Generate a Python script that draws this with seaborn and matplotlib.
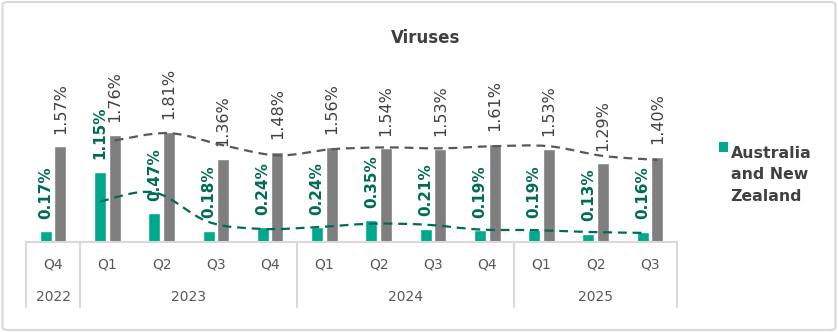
import numpy as np
import pandas as pd
import seaborn as sns
import matplotlib
matplotlib.use("Agg")
import matplotlib.pyplot as plt
from matplotlib.path import Path
from matplotlib.patches import PathPatch, FancyBboxPatch, Patch, Rectangle
from matplotlib.lines import Line2D
from matplotlib.legend_handler import HandlerBase
from matplotlib.transforms import blended_transform_factory

# Quarterly share of virus detections
quarters = ["Q4", "Q1", "Q2", "Q3", "Q4", "Q1", "Q2", "Q3", "Q4", "Q1", "Q2", "Q3"]
years = ["2022", "2023", "2023", "2023", "2023", "2024", "2024", "2024", "2024",
         "2025", "2025", "2025"]
anz_share = [0.17, 1.15, 0.47, 0.18, 0.24, 0.24, 0.35, 0.21, 0.19, 0.19, 0.13, 0.16]
global_share = [1.57, 1.76, 1.81, 1.36, 1.48, 1.56, 1.54, 1.53, 1.61, 1.53, 1.29, 1.40]
series_names = ["Australia and New Zealand", "Global"]

TEAL = "#00A88E"
TEAL_DARK = "#006B55"
GREY = "#7F7F7F"
GREY_DARK = "#595959"
TEXT = "#404040"
RULE = "#D9D9D9"

sns.set_theme(style="white")
plt.rcParams["font.family"] = ["DejaVu Sans"]

periods = [f"{y} {q}" for y, q in zip(years, quarters)]
df = pd.DataFrame({
    "period": periods * 2,
    "series": [series_names[0]] * len(periods) + [series_names[1]] * len(periods),
    "share": anz_share + global_share,
})

fig = plt.figure(figsize=(8.38, 3.32), dpi=100)
ax = fig.add_axes([0.031, 0.272, 0.777, 0.513])

sns.barplot(data=df, x="period", y="share", hue="series", order=periods,
            hue_order=series_names, palette=[TEAL, GREY], width=0.54, gap=0.18,
            saturation=1, ax=ax, legend=False)
ax.set_ylim(0, 2.8)
ax.set_xlim(-0.5, len(periods) - 0.5)


def smooth_path(xs, ys):
    """Bezier path through the points (Catmull-Rom style smoothing)."""
    pts = np.column_stack([xs, ys])
    verts = [pts[0]]
    codes = [Path.MOVETO]
    for i in range(len(pts) - 1):
        p0 = pts[i - 1] if i > 0 else pts[i]
        p1, p2 = pts[i], pts[i + 1]
        p3 = pts[i + 2] if i + 2 < len(pts) else pts[i + 1]
        c1 = p1 + (p2 - p0) / 6.0
        c2 = p2 - (p3 - p1) / 6.0
        verts += [c1, c2, p2]
        codes += [Path.CURVE4] * 3
    return Path(verts, codes)


# Bars, value labels and 2-period moving-average trend lines
label_styles = [dict(color=TEAL_DARK, fontweight="bold", fontsize=11),
                dict(color=TEXT, fontweight="normal", fontsize=11.5)]
trend_colors = [TEAL_DARK, GREY_DARK]
for container, values, style, tcolor in zip(ax.containers, [anz_share, global_share],
                                             label_styles, trend_colors):
    centers = [b.get_x() + b.get_width() / 2 for b in container]
    for xc, v in zip(centers, values):
        ax.annotate(f"{v:.2f}%", (xc, v), xytext=(0, 9), textcoords="offset points",
                    rotation=90, ha="center", va="bottom", **style)
    ma = pd.Series(values).rolling(2).mean()
    xs = np.array(centers)[1:]
    ys = ma.values[1:]
    ax.add_patch(PathPatch(smooth_path(xs, ys), fill=False, edgecolor=tcolor,
                           lw=1.6, linestyle=(0, (4, 2.6)), zorder=3))

# Axes styling
for side in ["top", "right", "left"]:
    ax.spines[side].set_visible(False)
ax.spines["bottom"].set_color(RULE)
ax.spines["bottom"].set_linewidth(1.5)
ax.set_xticks([])
ax.set_yticks([])
ax.set_xlabel("")
ax.set_ylabel("")

# Two-level category axis: quarters over years
tr = blended_transform_factory(ax.transData, fig.transFigure)
for i, q in enumerate(quarters):
    ax.text(i, 0.202, q, transform=tr, ha="center", va="center",
            fontsize=10, color=GREY_DARK)
year_groups = pd.Series(range(len(years))).groupby(pd.Series(years))
bounds = [-0.5]
for y, idx in year_groups:
    lo, hi = idx.min(), idx.max()
    ax.text((lo + hi) / 2, 0.105, y, transform=tr, ha="center", va="center",
            fontsize=10, color=GREY_DARK)
    bounds.append(hi + 0.5)
for b in bounds:
    ax.add_line(Line2D([b, b], [0.075, 0.272], transform=tr, color=RULE, lw=1.5,
                       clip_on=False))

fig.text(0.508, 0.887, "Viruses", ha="center", va="center", fontsize=12,
         fontweight="bold", color=TEXT)


class TopSquareHandler(HandlerBase):
    """Square legend key aligned with the first line of a multi-line label."""

    def __init__(self, lift, **kw):
        super().__init__(**kw)
        self.lift = lift

    def create_artists(self, legend, orig_handle, xdescent, ydescent, width,
                       height, fontsize, trans):
        side = min(width, height)
        sq = Rectangle((-xdescent, -ydescent + (height - side) / 2 + self.lift),
                       side, side, facecolor=orig_handle.get_facecolor(),
                       edgecolor="none", transform=trans)
        return [sq]


LEG_SIZE = 11.3
LEG_SPACING = 1.55
key = Patch(facecolor=TEAL, edgecolor="none")
leg = fig.legend(handles=[key], labels=["Australia\nand New\nZealand"],
                 loc="upper left", bbox_to_anchor=(0.850, 0.580), frameon=False,
                 handlelength=0.62, handleheight=0.62, handletextpad=0.15,
                 borderaxespad=0, prop=dict(size=LEG_SIZE, weight="bold"),
                 handler_map={Patch: TopSquareHandler(lift=LEG_SIZE * LEG_SPACING * 1.17)})
for t in leg.get_texts():
    t.set_color(TEXT)
    t.set_linespacing(LEG_SPACING)

fig.patches.append(FancyBboxPatch((0.003, 0.006), 0.994, 0.988,
                                  boxstyle="round,pad=0,rounding_size=0.008",
                                  transform=fig.transFigure, facecolor="none",
                                  edgecolor=RULE, lw=1.5))

fig.savefig("out.png", dpi=100)
